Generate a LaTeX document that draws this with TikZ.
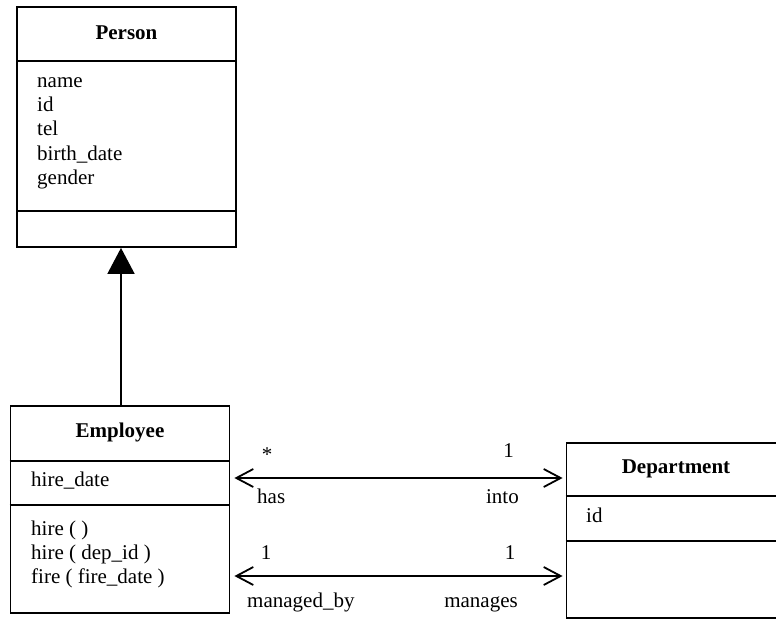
\documentclass[tikz,border=0pt]{standalone}
\usepackage{fontspec}
\setmainfont{Liberation Serif}
\usetikzlibrary{arrows.meta}
\begin{document}
\begin{tikzpicture}[x=1pt,y=-1pt,
  classbox/.style={draw, line width=1.8pt, minimum width=219pt, inner sep=0pt},
  title/.style={font=\fontsize{21}{24}\selectfont\bfseries, anchor=base, inner sep=0pt},
  attr/.style={font=\fontsize{21}{24}\selectfont, anchor=base west, inner sep=0pt},
  lbl/.style={font=\fontsize{21}{24}\selectfont, anchor=base, inner sep=0pt},
  lblr/.style={font=\fontsize{21}{24}\selectfont, anchor=base east, inner sep=0pt},
  lbll/.style={font=\fontsize{21}{24}\selectfont, anchor=base west, inner sep=0pt},
  sep/.style={line width=1.8pt},
  assoc/.style={line width=1.8pt, {Straight Barb[length=17pt,width=18pt,line width=1.8pt]}-{Straight Barb[length=17pt,width=18pt,line width=1.8pt]}},
  inherit/.style={line width=1.8pt, -{Triangle[length=26pt,width=27pt]}}
]
\useasboundingbox (0,0) rectangle (776,619);

% Person class
\node[classbox, minimum height=240pt] (person) at (126.5,127) {};
\draw[sep] (person.west |- 0,61) -- (person.east |- 0,61);
\draw[sep] (person.west |- 0,211) -- (person.east |- 0,211);
\node[title] (ptitle) at (126.5,39) {Person};
\node[attr] (pa1) at (37,87) {name};
\node[attr] (pa2) at (37,111) {id};
\node[attr] (pa3) at (37,135.5) {tel};
\node[attr] (pa4) at (37,160) {birth\_date};
\node[attr] (pa5) at (37,184) {gender};

% Employee class
\node[classbox, minimum height=207pt] (emp) at (120,509.5) {};
\draw[sep] (emp.west |- 0,461) -- (emp.east |- 0,461);
\draw[sep] (emp.west |- 0,505) -- (emp.east |- 0,505);
\node[title] (etitle) at (120,437) {Employee};
\node[attr] (ea1) at (31,486.5) {hire\_date};
\node[attr] (em1) at (31,535.5) {hire ( )};
\node[attr] (em2) at (31,559) {hire ( dep\_id )};
\node[attr] (em3) at (31,583) {fire ( fire\_date )};

% Department class (runs past the right margin)
\node[classbox, minimum height=175pt] (dept) at (676,530.5) {};
\draw[sep] (dept.west |- 0,496) -- (dept.east |- 0,496);
\draw[sep] (dept.west |- 0,541) -- (dept.east |- 0,541);
\node[title] (dtitle) at (676,473) {Department};
\node[attr] (da1) at (586,522) {id};

% Generalisation
\draw[inherit] (emp.north -| 121,0) -- (person.south -| 121,0);

% Associations
\coordinate (hasL) at ([xshift=4pt]emp.east |- 0,478);
\coordinate (hasR) at ([xshift=-3pt]dept.west |- 0,478);
\coordinate (mgL) at ([xshift=4pt]emp.east |- 0,576);
\coordinate (mgR) at ([xshift=-3pt]dept.west |- 0,576);
\draw[assoc] (hasL) -- (hasR);
\draw[assoc] (mgL) -- (mgR);

\node[lbl] (m1) at (267,461) {*};
\node[lbl] (m2) at (508.5,457.5) {1};
\node[lbll] (r1) at (257,503) {has};
\node[lblr] (r2) at (519,503) {into};
\node[lbl] (m3) at (266,559.5) {1};
\node[lbl] (m4) at (510,559.5) {1};
\node[lbll] (r3) at (247,607) {managed\_by};
\node[lblr] (r4) at (518,607) {manages};
\end{tikzpicture}
\end{document}
